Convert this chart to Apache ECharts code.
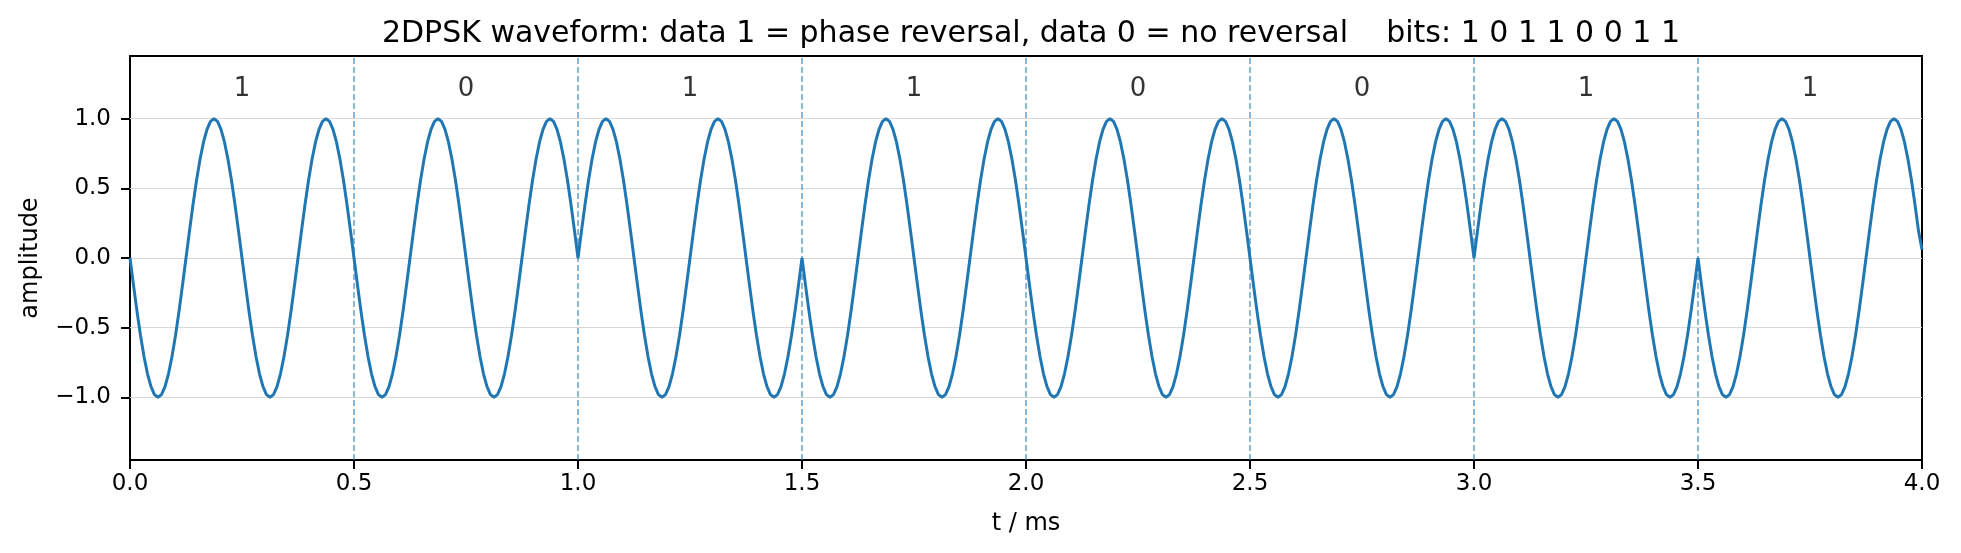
<!DOCTYPE html>
<html lang="en">
  <head>
    <meta charset="UTF-8" />
    <title>2DPSK waveform</title>
    <script src="https://cdn.jsdelivr.net/npm/echarts@6/dist/echarts.min.js"></script>
    <style>
      html, body { margin: 0; padding: 0; background: #fff; }
    </style>
  </head>
  <body>
    <div id="main" style="height: 553px; width: 1961px"></div>
  </body>
</html>
<script>
  // data bits, one per 0.5 ms
  const bits = ['1', '0', '1', '1', '0', '0', '1', '1']
  // carrier sign in each bit (-1 = starts going down)
  const bitPhase = [-1, -1, 1, -1, -1, -1, 1, -1]
  const bitStarts = [0, 0.5, 1.0, 1.5, 2.0, 2.5, 3.0, 3.5]
  const bitBoundaries = [0.5, 1.0, 1.5, 2.0, 2.5, 3.0, 3.5]
  const bitDuration = 0.5
  const cyclesPerBit = 2
  // one carrier period, 32 samples
  const cycleShape = [
    0, 0.195, 0.383, 0.556, 0.707, 0.831, 0.924, 0.981,
    1, 0.981, 0.924, 0.831, 0.707, 0.556, 0.383, 0.195,
    0, -0.195, -0.383, -0.556, -0.707, -0.831, -0.924, -0.981,
    -1, -0.981, -0.924, -0.831, -0.707, -0.556, -0.383, -0.195
  ]
  // last sample right at t = 4.0
  const tailPoint = [4.0, 0.06]
  const yTicks = [-1.0, -0.5, 0.0, 0.5, 1.0]
  const bitLabelY = 1.21

  const wave = []
  const stepsPerBit = cycleShape.length * cyclesPerBit
  bitStarts.forEach((start, b) => {
    for (let j = 0; j < stepsPerBit; j++) {
      const t = start + (j * bitDuration) / stepsPerBit
      wave.push([t, bitPhase[b] * cycleShape[j % cycleShape.length]])
    }
  })
  wave.push(tailPoint)

  const bitLabelData = bits.map((bit, i) => [bitStarts[i] + bitDuration / 2, bitLabelY, bit])

  const font = 'DejaVu Sans'
  const fmt = (v) => (v < 0 ? '\u2212' + Math.abs(v).toFixed(1) : v.toFixed(1))

  const chartInstance = echarts.init(document.getElementById('main'))

  const option = {
    animation: false,
    backgroundColor: '#fff',
    title: {
      text: '2DPSK waveform: data 1 = phase reversal, data 0 = no reversal    bits: ' + bits.join(' '),
      left: 1026,
      top: 14,
      textAlign: 'center',
      textStyle: { fontFamily: font, fontSize: 30, fontWeight: 'normal', color: '#000' }
    },
    grid: {
      left: 130,
      right: 39,
      top: 56,
      bottom: 93,
      show: true,
      borderColor: '#000',
      borderWidth: 2
    },
    xAxis: {
      type: 'value',
      min: 0,
      max: 4,
      interval: 0.5,
      name: 't / ms',
      nameLocation: 'middle',
      nameGap: 52,
      nameTextStyle: { fontFamily: font, fontSize: 24, color: '#000' },
      axisLine: { show: true, onZero: false, lineStyle: { color: '#000', width: 2 } },
      axisTick: { show: true, length: 9, lineStyle: { color: '#000', width: 2 } },
      axisLabel: { fontFamily: font, fontSize: 23, color: '#000', margin: 13, formatter: fmt },
      splitLine: { show: false }
    },
    yAxis: {
      type: 'value',
      min: -1.45,
      max: 1.45,
      name: 'amplitude',
      nameLocation: 'middle',
      nameGap: 87,
      nameTextStyle: { fontFamily: font, fontSize: 24, color: '#000' },
      axisLine: { show: true, onZero: false, lineStyle: { color: '#000', width: 2 } },
      axisTick: { show: true, length: 9, customValues: yTicks, lineStyle: { color: '#000', width: 2 } },
      axisLabel: { fontFamily: font, fontSize: 23, color: '#000', margin: 19, customValues: yTicks, formatter: fmt },
      splitLine: { show: false }
    },
    series: [
      {
        type: 'line',
        data: wave,
        showSymbol: false,
        smooth: false,
        z: 5,
        lineStyle: { color: '#1f77b4', width: 3 },
        markLine: {
          silent: true,
          symbol: 'none',
          label: { show: false },
          animation: false,
          data: [
            ...yTicks.map((v) => ({ yAxis: v, lineStyle: { color: '#d6d6d6', width: 1.2, type: 'solid' } })),
            ...bitBoundaries.map((v) => ({
              xAxis: v,
              lineStyle: { color: '#1f77b4', opacity: 0.7, width: 1.5, type: [6, 3] }
            }))
          ]
        }
      },
      {
        type: 'scatter',
        data: bitLabelData,
        symbolSize: 0,
        silent: true,
        label: {
          show: true,
          position: 'inside',
          formatter: (p) => p.data[2],
          fontFamily: font,
          fontSize: 26,
          color: '#000'
        }
      }
    ]
  }

  chartInstance.setOption(option)

  window.addEventListener('resize', () => {
    chartInstance.resize()
  })
</script>
